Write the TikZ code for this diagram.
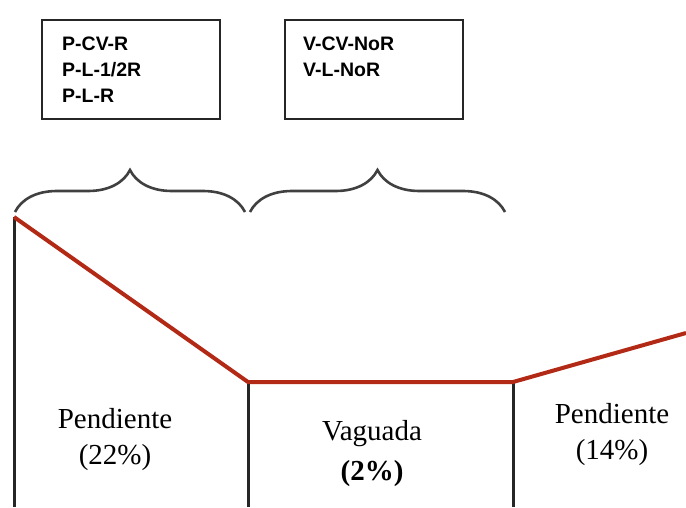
\documentclass[tikz,border=0pt]{standalone}
\usepackage{fontspec}
\setmainfont{Liberation Serif}
\newfontfamily\tagfont{Liberation Sans}
\usetikzlibrary{decorations.pathreplacing}
\definecolor{terrain}{RGB}{178,42,22}

\begin{document}
\begin{tikzpicture}[x=1pt,y=-1pt]
\tikzstyle{tag} = [rectangle, draw=black!85, line width=2.6pt, minimum width=178pt, minimum height=99pt]
\tikzstyle{tagtext} = [anchor=north west, inner sep=0pt, align=left, font=\tagfont\bfseries\fontsize{19.5}{26}\selectfont]
\tikzstyle{zone} = [align=center, inner sep=0pt, font=\fontsize{29}{36}\selectfont]
\tikzstyle{profile} = [line width=4pt, draw=terrain, line join=round]
\tikzstyle{wall} = [line width=3pt, draw=black!85]
\tikzstyle{curly} = [decorate, decoration={brace, amplitude=42pt}, line width=2.6pt, draw=black!75]
\useasboundingbox (0,0) rectangle (686,507);
% legend boxes
\node (tag1) [tag] at (131,69.5) {};
\node (tag2) [tag] at (374,69.5) {};
\node (list1) [tagtext] at (62,37) {P-CV-R\\P-L-1/2R\\P-L-R};
\node (list2) [tagtext] at (303,37) {V-CV-NoR\\V-L-NoR};
% braces
\coordinate (b1l) at (15,212);
\coordinate (b1r) at (245,212);
\coordinate (b2l) at (250,212);
\coordinate (b2r) at (505,212);
\draw [curly] (b1l) -- (b1r);
\draw [curly] (b2l) -- (b2r);
% terrain profile
\coordinate (top) at (14,217);
\coordinate (low1) at (248,382);
\coordinate (low2) at (513,382);
\coordinate (rim) at (686,333);
\draw [wall] (top) -- (top |- 0,507);
\draw [wall] (low1) -- (low1 |- 0,507);
\draw [wall] (low2) -- (low2 |- 0,507);
\draw [profile] (top) -- (low1) -- (low2) -- (rim);
% zone labels
\node (zone1) [zone] at (115,440) {Pendiente\\(22\%)};
\node (zone2) [zone, font=\fontsize{29}{40}\selectfont] at (372,454) {Vaguada\\\textbf{(2\%)}};
\node (zone3) [zone] at (612,435) {Pendiente\\(14\%)};
\end{tikzpicture}
\end{document}
